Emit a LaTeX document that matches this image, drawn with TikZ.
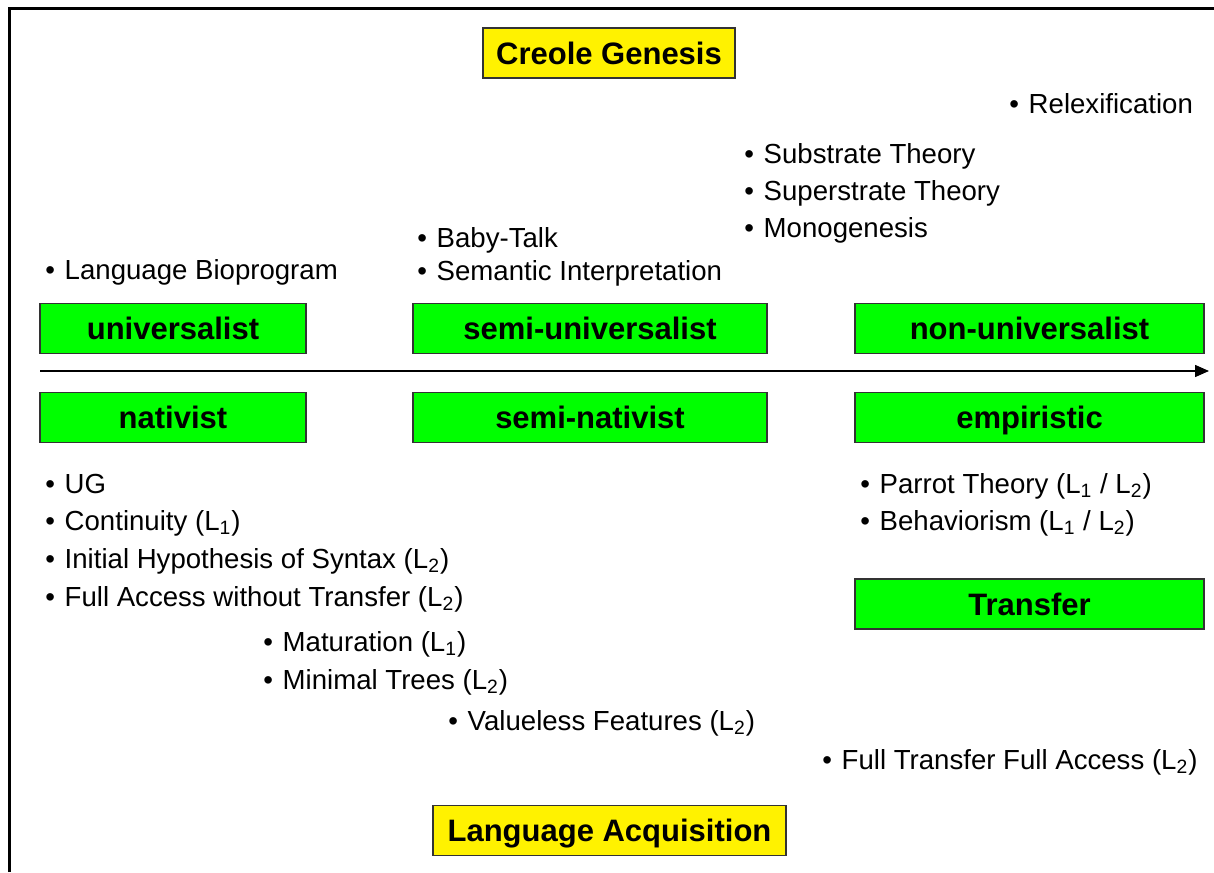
\documentclass[tikz,border=0pt]{standalone}
\usepackage{fontspec}
\setmainfont{Liberation Sans}
\usetikzlibrary{arrows.meta}

\newcommand{\bitem}[1]{\textbullet\hspace{0.35em}#1}
\newcommand{\Lsub}[1]{L\textsubscript{#1}}

\tikzset{
  greenbox/.style={draw=black!80, line width=0.7pt, fill=green, font=\fontsize{15.5}{18}\selectfont\bfseries, minimum height=25pt, inner sep=0pt, text height=11.1pt, text depth=0pt},
  yellowbox/.style={draw=black!80, line width=0.7pt, fill=yellow, font=\fontsize{15.5}{18}\selectfont\bfseries, minimum height=25pt, inner sep=0pt, text height=11.1pt, text depth=0pt},
  theory/.style={anchor=base west, inner sep=0pt, font=\fontsize{13.8}{16}\selectfont}
}

\begin{document}
\begin{tikzpicture}[x=0.5pt, y=-0.5pt]
      \useasboundingbox (0,0) rectangle (1214,872);
      \fill[white] (0,0) rectangle (1214,872);
      \draw[line width=1.5pt] (9,872) -- (9,9) -- (1214,9);

      % titles
      \node[yellowbox, minimum width=126pt] (creole) at (609, 53) {Creole Genesis};
      \node[yellowbox, minimum width=176.5pt] (acq) at (609.5, 830.5) {Language Acquisition};

      % upper row
      \node[greenbox, minimum width=133pt] (univ) at (173, 328.5) {universalist};
      \node[greenbox, minimum width=177pt] (semiuniv) at (590, 328.5) {semi-universalist};
      \node[greenbox, minimum width=174.5pt] (nonuniv) at (1029.5, 328.5) {non-universalist};

      % scale
      \coordinate (scalel) at (40, 371);
      \coordinate (scaler) at (1209, 371);
      \draw[line width=0.7pt, -{Triangle[length=7pt, width=6pt]}] (scalel) -- (scaler);

      % lower row
      \node[greenbox, minimum width=133pt] (nat) at (173, 417.5) {nativist};
      \node[greenbox, minimum width=177pt] (seminat) at (590, 417.5) {semi-nativist};
      \node[greenbox, minimum width=174.5pt] (emp) at (1029.5, 417.5) {empiristic};
      \node[greenbox, minimum width=174.5pt] (transfer) at (1029.5, 604) {Transfer};

      % creole theories
      \node[theory] (relex) at (1009, 113) {\bitem{Relexification}};
      \node[theory] (substr) at (744, 163) {\bitem{Substrate Theory}};
      \node[theory] (superstr) at (744, 200) {\bitem{Superstrate Theory}};
      \node[theory] (monogen) at (744, 237) {\bitem{Monogenesis}};
      \node[theory] (baby) at (417, 247) {\bitem{Baby-Talk}};
      \node[theory] (seminterp) at (417, 280) {\bitem{Semantic Interpretation}};
      \node[theory] (bioprog) at (45, 279) {\bitem{Language Bioprogram}};

      % acquisition theories
      \node[theory] (ug) at (45, 493) {\bitem{UG}};
      \node[theory] (contin) at (45, 530) {\bitem{Continuity (\Lsub{1})}};
      \node[theory] (inithyp) at (45, 568) {\bitem{Initial Hypothesis of Syntax (\Lsub{2})}};
      \node[theory] (fullacc) at (45, 606) {\bitem{Full Access without Transfer (\Lsub{2})}};
      \node[theory] (matur) at (263, 651) {\bitem{Maturation (\Lsub{1})}};
      \node[theory] (mintree) at (263, 689) {\bitem{Minimal Trees (\Lsub{2})}};
      \node[theory] (valless) at (448, 730) {\bitem{Valueless Features (\Lsub{2})}};
      \node[theory] (parrot) at (860, 493) {\bitem{Parrot Theory (\Lsub{1} / \Lsub{2})}};
      \node[theory] (behav) at (860, 530) {\bitem{Behaviorism (\Lsub{1} / \Lsub{2})}};
      \node[theory] (ftfa) at (822, 769) {\bitem{Full Transfer Full Access (\Lsub{2})}};
\end{tikzpicture}
\end{document}
